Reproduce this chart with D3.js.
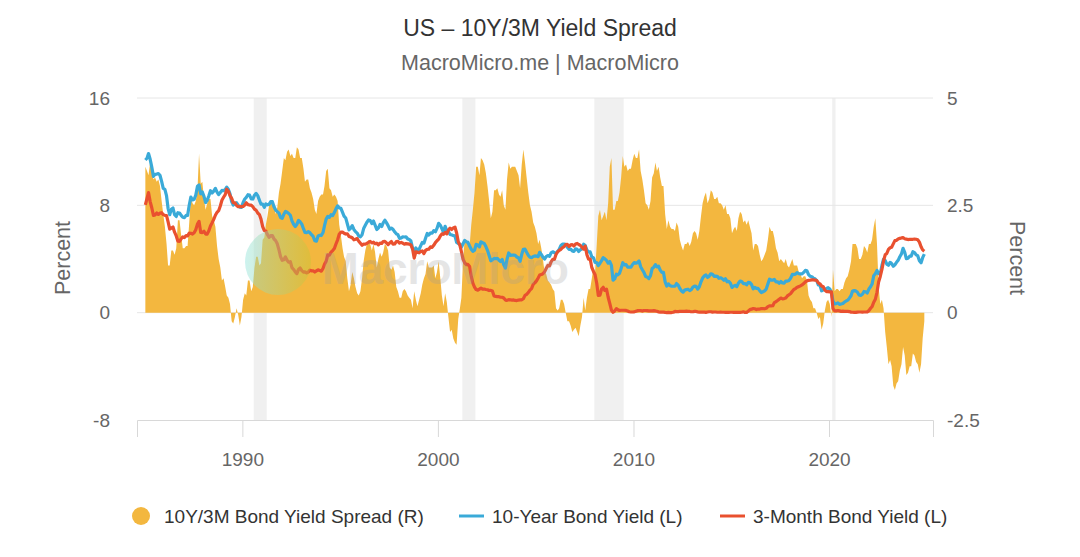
<!DOCTYPE html>
<html>
<head>
<meta charset="utf-8">
<script src="https://cdn.jsdelivr.net/npm/d3@7"></script>
<style>
  body { margin: 0; background: #fff; }
  text { font-family: "Liberation Sans", Arial, sans-serif; }
</style>
</head>
<body>
<svg id="chart" width="1080" height="557"></svg>
<script>
// Monthly values, first month Jan 1985, last Nov 2024
const startYear = 1985;

// 10-Year Bond Yield (L)
const tenYear = [
  11.38, 11.51, 11.86, 11.43, 10.85, 10.16, 10.31, 10.33, 10.37, 10.24, 9.78, 9.26,
  9.19, 8.70, 7.78, 7.30, 7.71, 7.80, 7.30, 7.17, 7.45, 7.43, 7.25, 7.11,
  7.08, 7.25, 7.25, 8.02, 8.61, 8.40, 8.45, 8.76, 9.42, 9.52, 8.86, 8.99,
  8.67, 8.21, 8.37, 8.72, 9.09, 8.92, 9.06, 9.26, 8.98, 8.80, 8.96, 9.11,
  9.09, 9.17, 9.36, 9.18, 8.86, 8.28, 8.02, 8.11, 8.19, 8.01, 7.87, 7.84,
  8.21, 8.47, 8.59, 8.79, 8.76, 8.48, 8.47, 8.75, 8.89, 8.72, 8.39, 8.08,
  8.09, 7.85, 8.11, 8.04, 8.07, 8.28, 8.27, 7.90, 7.65, 7.53, 7.42, 7.09,
  7.03, 7.34, 7.54, 7.48, 7.39, 7.26, 6.84, 6.59, 6.42, 6.59, 6.87, 6.77,
  6.60, 6.26, 5.98, 5.97, 6.04, 5.96, 5.81, 5.68, 5.36, 5.33, 5.72, 5.77,
  5.75, 5.97, 6.48, 6.97, 7.18, 7.10, 7.30, 7.24, 7.46, 7.74, 7.96, 7.81,
  7.78, 7.47, 7.20, 7.06, 6.63, 6.17, 6.28, 6.49, 6.20, 6.04, 5.93, 5.71,
  5.65, 5.81, 6.27, 6.51, 6.74, 6.91, 6.87, 6.64, 6.83, 6.53, 6.20, 6.30,
  6.58, 6.42, 6.69, 6.89, 6.71, 6.49, 6.22, 6.30, 6.21, 6.03, 5.88, 5.81,
  5.54, 5.57, 5.65, 5.64, 5.65, 5.50, 5.46, 5.34, 4.81, 4.53, 4.83, 4.65,
  4.72, 5.00, 5.23, 5.18, 5.54, 5.90, 5.79, 5.94, 5.92, 6.11, 6.03, 6.28,
  6.66, 6.52, 6.26, 5.99, 6.44, 6.10, 6.05, 5.83, 5.80, 5.74, 5.72, 5.24,
  5.16, 5.10, 4.89, 5.14, 5.39, 5.28, 5.24, 4.97, 4.73, 4.57, 4.65, 5.09,
  5.04, 4.91, 5.28, 5.21, 5.16, 4.93, 4.65, 4.26, 3.87, 3.94, 4.05, 4.03,
  4.05, 3.90, 3.81, 3.96, 3.57, 3.33, 3.98, 4.45, 4.27, 4.29, 4.30, 4.27,
  4.15, 4.08, 3.83, 4.35, 4.72, 4.73, 4.50, 4.28, 4.13, 4.10, 4.19, 4.23,
  4.22, 4.17, 4.50, 4.34, 4.14, 4.00, 4.18, 4.26, 4.20, 4.46, 4.54, 4.47,
  4.42, 4.57, 4.72, 4.99, 5.11, 5.11, 5.09, 4.88, 4.72, 4.73, 4.60, 4.56,
  4.76, 4.72, 4.56, 4.69, 4.75, 5.10, 5.00, 4.67, 4.52, 4.53, 4.15, 4.10,
  3.74, 3.74, 3.51, 3.68, 3.88, 4.10, 4.01, 3.89, 3.69, 3.81, 3.53, 2.42,
  2.52, 2.87, 2.82, 2.93, 3.29, 3.72, 3.56, 3.59, 3.40, 3.39, 3.40, 3.59,
  3.73, 3.69, 3.73, 3.85, 3.42, 3.20, 3.01, 2.70, 2.65, 2.54, 2.76, 3.29,
  3.39, 3.58, 3.41, 3.46, 3.17, 3.00, 3.00, 2.30, 1.98, 2.15, 2.01, 1.98,
  1.97, 1.97, 2.17, 2.05, 1.80, 1.62, 1.53, 1.68, 1.72, 1.75, 1.65, 1.72,
  1.91, 1.98, 1.96, 1.76, 1.93, 2.30, 2.58, 2.74, 2.81, 2.62, 2.72, 2.90,
  2.86, 2.71, 2.72, 2.71, 2.56, 2.60, 2.54, 2.42, 2.53, 2.30, 2.33, 2.21,
  1.88, 1.98, 2.04, 1.94, 2.20, 2.36, 2.32, 2.17, 2.17, 2.07, 2.26, 2.24,
  2.09, 1.78, 1.89, 1.81, 1.81, 1.64, 1.50, 1.56, 1.63, 1.76, 2.14, 2.49,
  2.43, 2.42, 2.48, 2.30, 2.30, 2.19, 2.32, 2.21, 2.20, 2.36, 2.35, 2.40,
  2.58, 2.86, 2.84, 2.87, 2.98, 2.91, 2.89, 2.89, 3.00, 3.15, 3.12, 2.83,
  2.71, 2.68, 2.57, 2.53, 2.40, 2.07, 2.06, 1.63, 1.70, 1.71, 1.81, 1.86,
  1.76, 1.50, 0.87, 0.66, 0.67, 0.73, 0.62, 0.65, 0.68, 0.79, 0.87, 0.93,
  1.08, 1.26, 1.61, 1.64, 1.62, 1.52, 1.32, 1.28, 1.37, 1.58, 1.56, 1.47,
  1.76, 1.93, 2.13, 2.75, 2.90, 3.14, 2.90, 2.90, 3.52, 3.98, 3.89, 3.62,
  3.53, 3.75, 3.66, 3.46, 3.57, 3.75, 3.90, 4.17, 4.38, 4.80, 4.50, 4.02,
  4.06, 4.21, 4.21, 4.54, 4.48, 4.31, 4.25, 3.87, 3.72, 4.10, 4.36
];

// 3-Month Bond Yield (L)
const threeMonth = [
  8.03, 8.51, 8.95, 8.28, 7.82, 7.25, 7.29, 7.43, 7.32, 7.42, 7.45, 7.31,
  7.25, 7.24, 6.78, 6.23, 6.30, 6.39, 6.00, 5.72, 5.33, 5.32, 5.50, 5.65,
  5.60, 5.75, 5.72, 5.93, 5.92, 5.86, 5.95, 6.18, 6.60, 6.80, 5.98, 5.97,
  6.07, 5.86, 5.86, 6.10, 6.46, 6.70, 6.95, 7.26, 7.48, 7.60, 7.95, 8.38,
  8.60, 8.80, 9.20, 9.05, 8.72, 8.52, 8.20, 8.19, 7.99, 7.90, 7.92, 7.91,
  7.92, 8.02, 8.19, 8.05, 8.02, 8.01, 7.90, 7.72, 7.63, 7.43, 7.31, 6.97,
  6.42, 6.12, 6.09, 5.82, 5.62, 5.74, 5.75, 5.49, 5.37, 5.13, 4.69, 4.18,
  3.90, 3.94, 4.16, 3.91, 3.76, 3.80, 3.36, 3.22, 3.04, 2.91, 3.22, 3.33,
  3.13, 3.02, 3.04, 2.96, 3.03, 3.17, 3.12, 3.12, 3.03, 3.11, 3.19, 3.15,
  3.09, 3.29, 3.61, 3.84, 4.30, 4.29, 4.51, 4.63, 4.78, 5.12, 5.43, 5.84,
  6.00, 6.00, 5.92, 5.86, 5.88, 5.68, 5.64, 5.58, 5.43, 5.47, 5.52, 5.32,
  5.17, 5.02, 5.11, 5.10, 5.17, 5.25, 5.31, 5.20, 5.25, 5.14, 5.18, 5.06,
  5.18, 5.16, 5.30, 5.32, 5.20, 5.08, 5.20, 5.30, 5.10, 5.12, 5.30, 5.32,
  5.19, 5.24, 5.18, 5.10, 5.15, 5.13, 5.11, 5.05, 4.74, 4.07, 4.53, 4.51,
  4.46, 4.57, 4.60, 4.40, 4.64, 4.72, 4.73, 4.90, 4.87, 5.02, 5.22, 5.36,
  5.48, 5.72, 5.87, 5.84, 5.98, 5.87, 6.16, 6.30, 6.20, 6.32, 6.38, 5.96,
  5.30, 5.02, 4.54, 3.97, 3.71, 3.58, 3.60, 3.44, 2.70, 2.20, 1.91, 1.72,
  1.68, 1.76, 1.83, 1.75, 1.76, 1.73, 1.71, 1.65, 1.66, 1.61, 1.25, 1.21,
  1.19, 1.19, 1.15, 1.15, 1.09, 0.94, 0.92, 0.97, 0.96, 0.94, 0.95, 0.91,
  0.90, 0.94, 0.95, 0.96, 1.04, 1.29, 1.36, 1.50, 1.68, 1.79, 2.11, 2.22,
  2.37, 2.58, 2.80, 2.84, 2.90, 3.04, 3.29, 3.52, 3.49, 3.79, 3.97, 3.97,
  4.34, 4.54, 4.63, 4.72, 4.84, 4.92, 5.08, 5.09, 4.93, 5.05, 5.07, 4.97,
  5.11, 5.16, 5.08, 5.01, 4.87, 4.74, 4.96, 4.32, 3.99, 4.00, 3.35, 3.07,
  2.82, 2.17, 1.28, 1.31, 1.76, 1.89, 1.66, 1.75, 1.15, 0.69, 0.19, 0.03,
  0.13, 0.30, 0.22, 0.16, 0.18, 0.18, 0.18, 0.17, 0.12, 0.07, 0.05, 0.05,
  0.06, 0.11, 0.15, 0.16, 0.16, 0.12, 0.16, 0.16, 0.15, 0.13, 0.14, 0.14,
  0.15, 0.13, 0.10, 0.06, 0.04, 0.04, 0.04, 0.02, 0.01, 0.02, 0.01, 0.01,
  0.03, 0.09, 0.08, 0.08, 0.09, 0.09, 0.10, 0.10, 0.11, 0.10, 0.09, 0.07,
  0.07, 0.10, 0.09, 0.06, 0.04, 0.05, 0.04, 0.04, 0.02, 0.05, 0.07, 0.07,
  0.04, 0.05, 0.05, 0.03, 0.03, 0.04, 0.03, 0.03, 0.02, 0.02, 0.02, 0.03,
  0.03, 0.02, 0.03, 0.02, 0.02, 0.02, 0.03, 0.07, 0.02, 0.02, 0.12, 0.23,
  0.26, 0.31, 0.29, 0.23, 0.27, 0.27, 0.30, 0.30, 0.29, 0.33, 0.45, 0.51,
  0.51, 0.52, 0.75, 0.81, 0.90, 1.00, 1.09, 1.03, 1.05, 1.09, 1.25, 1.34,
  1.43, 1.60, 1.73, 1.79, 1.90, 1.94, 2.00, 2.07, 2.17, 2.29, 2.37, 2.41,
  2.42, 2.44, 2.45, 2.43, 2.40, 2.22, 2.15, 1.99, 1.93, 1.68, 1.57, 1.57,
  1.55, 1.55, 0.30, 0.14, 0.13, 0.16, 0.13, 0.10, 0.11, 0.10, 0.09, 0.09,
  0.08, 0.04, 0.03, 0.02, 0.02, 0.04, 0.05, 0.05, 0.04, 0.05, 0.05, 0.06,
  0.15, 0.33, 0.45, 0.78, 1.00, 1.52, 2.28, 2.70, 3.22, 3.85, 4.31, 4.41,
  4.72, 4.84, 4.88, 5.13, 5.37, 5.39, 5.49, 5.54, 5.57, 5.59, 5.51, 5.48,
  5.45, 5.47, 5.47, 5.47, 5.48, 5.47, 5.43, 5.26, 4.91, 4.68, 4.58
];

// 10Y/3M Bond Yield Spread (R)
const spread = [
  3.40, 3.30, 3.20, 3.50, 3.30, 3.10, 3.15, 3.05, 3.10, 2.95, 2.60, 2.30,
  2.00, 1.60, 1.10, 1.10, 1.45, 1.45, 1.35, 1.50, 2.15, 2.15, 1.80, 1.50,
  1.50, 1.55, 1.55, 2.10, 2.70, 2.55, 2.50, 2.60, 2.85, 3.70, 3.00, 3.05,
  2.65, 2.40, 2.55, 2.65, 2.65, 2.25, 2.15, 2.00, 1.55, 1.25, 1.05, 0.75,
  0.80, 0.60, 0.40, 0.35, 0.20, -0.20, -0.25, -0.10, 0.10, -0.05, -0.30, -0.10,
  0.30, 0.45, 0.40, 0.75, 0.75, 0.50, 0.60, 1.05, 1.30, 1.30, 1.10, 1.15,
  1.70, 1.75, 2.05, 2.25, 2.50, 2.55, 2.55, 2.45, 2.30, 2.45, 2.80, 3.00,
  3.30, 3.60, 3.55, 3.75, 3.80, 3.65, 3.70, 3.60, 3.60, 3.85, 3.80, 3.60,
  3.60, 3.35, 3.05, 3.10, 3.10, 2.90, 2.80, 2.65, 2.40, 2.30, 2.60, 2.70,
  2.75, 2.75, 2.95, 3.30, 3.35, 2.90, 2.85, 2.70, 2.75, 2.70, 2.60, 2.05,
  1.80, 1.50, 1.30, 1.20, 0.80, 0.50, 0.65, 0.95, 0.80, 0.60, 0.45, 0.40,
  0.50, 0.80, 1.20, 1.45, 1.60, 1.70, 1.60, 1.45, 1.60, 1.40, 1.05, 1.25,
  1.40, 1.30, 1.40, 1.60, 1.55, 1.45, 1.05, 1.00, 1.10, 0.95, 0.60, 0.50,
  0.35, 0.35, 0.50, 0.55, 0.50, 0.40, 0.35, 0.30, 0.10, 0.50, 0.30, 0.15,
  0.30, 0.45, 0.65, 0.80, 0.90, 1.20, 1.05, 1.05, 1.05, 1.10, 0.80, 0.95,
  1.20, 0.80, 0.40, 0.15, 0.45, 0.25, -0.10, -0.45, -0.40, -0.60, -0.70, -0.75,
  -0.15, 0.10, 0.35, 1.20, 1.70, 1.70, 1.65, 1.55, 2.05, 2.40, 2.80, 3.40,
  3.40, 3.20, 3.60, 3.55, 3.45, 3.25, 2.95, 2.60, 2.20, 2.35, 2.85, 2.85,
  2.90, 2.75, 2.70, 2.85, 2.50, 2.40, 3.10, 3.50, 3.35, 3.40, 3.40, 3.40,
  3.30, 3.20, 2.90, 3.45, 3.80, 3.50, 3.15, 2.80, 2.50, 2.35, 2.10, 2.00,
  1.85, 1.60, 1.70, 1.50, 1.25, 0.95, 0.90, 0.75, 0.70, 0.65, 0.55, 0.50,
  0.10, 0.05, 0.10, 0.30, 0.30, 0.20, 0.00, -0.20, -0.20, -0.30, -0.45, -0.40,
  -0.35, -0.45, -0.55, -0.30, -0.10, 0.35, 0.05, 0.35, 0.55, 0.55, 0.80, 1.05,
  0.95, 1.60, 2.25, 2.40, 2.15, 2.25, 2.35, 2.15, 2.55, 3.40, 3.60, 2.40,
  2.40, 2.60, 2.60, 2.80, 3.15, 3.65, 3.40, 3.45, 3.30, 3.35, 3.35, 3.55,
  3.70, 3.60, 3.60, 3.80, 3.30, 3.10, 2.85, 2.55, 2.50, 2.40, 2.60, 3.15,
  3.25, 3.50, 3.30, 3.40, 3.15, 2.95, 2.95, 2.30, 1.95, 2.15, 2.00, 1.95,
  1.95, 1.90, 2.10, 2.00, 1.70, 1.55, 1.45, 1.60, 1.60, 1.65, 1.55, 1.65,
  1.85, 1.90, 1.85, 1.70, 1.90, 2.25, 2.55, 2.70, 2.80, 2.55, 2.65, 2.85,
  2.80, 2.65, 2.65, 2.70, 2.55, 2.55, 2.50, 2.40, 2.50, 2.30, 2.30, 2.20,
  1.85, 1.95, 2.00, 1.90, 2.20, 2.35, 2.30, 2.10, 2.15, 2.05, 2.15, 2.00,
  1.85, 1.45, 1.60, 1.60, 1.55, 1.35, 1.20, 1.25, 1.35, 1.45, 1.70, 2.00,
  1.90, 1.90, 1.75, 1.50, 1.40, 1.20, 1.25, 1.20, 1.15, 1.25, 1.10, 1.05,
  1.15, 1.25, 1.10, 1.10, 1.10, 0.95, 0.90, 0.80, 0.85, 0.85, 0.75, 0.40,
  0.30, 0.25, 0.10, 0.10, 0.00, -0.15, -0.10, -0.40, -0.25, 0.05, 0.25, 0.30,
  0.20, -0.10, 1.00, 0.50, 0.55, 0.55, 0.50, 0.55, 0.55, 0.70, 0.80, 0.85,
  1.00, 1.20, 1.60, 1.60, 1.60, 1.50, 1.25, 1.25, 1.35, 1.55, 1.50, 1.40,
  1.60, 1.60, 1.70, 2.00, 2.20, 1.60, 0.60, 0.20, 0.30, 0.10, -0.45, -0.80,
  -1.20, -1.10, -1.25, -1.70, -1.80, -1.65, -1.60, -1.35, -1.20, -0.80, -1.00, -1.45,
  -1.40, -1.25, -1.25, -0.95, -1.00, -1.15, -1.20, -1.40, -1.20, -0.60, -0.20
];

// Recession periods (grey bands)
const recessions = [
  ["1990-08-01", "1991-04-01"],
  ["2001-04-01", "2001-12-01"],
  ["2008-01-01", "2009-07-01"],
  ["2020-03-01", "2020-05-01"]
];

const leftTicks = [-8, 0, 8, 16];
const rightTicks = [-2.5, 0, 2.5, 5];
const yearTicks = [1990, 2000, 2010, 2020];

const colors = { spread: "#f3b73f", tenYear: "#3aaad8", threeMonth: "#e9502f" };

const svg = d3.select("#chart");
const margin = { left: 137, right: 933, top: 98, bottom: 420 };

const data = tenYear.map((v, i) => ({
  date: new Date(startYear, i, 15),
  tenYear: v,
  threeMonth: threeMonth[i],
  spread: spread[i]
}));

const x = d3.scaleTime()
  .domain([new Date(1984, 7, 12), new Date(2025, 3, 26)])
  .range([margin.left, margin.right]);

const yL = d3.scaleLinear().domain([-8, 16]).range([margin.bottom, margin.top]);
const yR = d3.scaleLinear().domain([-2.5, 5]).range([margin.bottom, margin.top]);

// Title
svg.append("text")
  .attr("x", 540).attr("y", 36)
  .attr("text-anchor", "middle")
  .style("font-size", "23px")
  .attr("fill", "#333")
  .text("US – 10Y/3M Yield Spread");

svg.append("text")
  .attr("x", 540).attr("y", 70)
  .attr("text-anchor", "middle")
  .style("font-size", "21.5px")
  .attr("fill", "#666")
  .text("MacroMicro.me | MacroMicro");

// Recession bands
svg.append("g")
  .selectAll("rect")
  .data(recessions)
  .join("rect")
  .attr("x", d => x(new Date(d[0])))
  .attr("width", d => x(new Date(d[1])) - x(new Date(d[0])))
  .attr("y", margin.top)
  .attr("height", margin.bottom - margin.top)
  .attr("fill", "#f0f0f0");

// Grid lines
svg.append("g")
  .selectAll("line")
  .data(leftTicks.filter(t => t !== -8))
  .join("line")
  .attr("x1", margin.left).attr("x2", margin.right)
  .attr("y1", d => yL(d)).attr("y2", d => yL(d))
  .attr("stroke", "#e6e6e6")
  .attr("stroke-width", 1);

// Spread area (right axis)
const area = d3.area()
  .x(d => x(d.date))
  .y0(yR(0))
  .y1(d => yR(d.spread));

svg.append("path")
  .datum(data)
  .attr("d", area)
  .attr("fill", colors.spread);

// Yield lines (left axis)
const line10 = d3.line().x(d => x(d.date)).y(d => yL(d.tenYear));
const line3 = d3.line().x(d => x(d.date)).y(d => yL(d.threeMonth));

svg.append("path")
  .datum(data)
  .attr("d", line10)
  .attr("fill", "none")
  .attr("stroke", colors.tenYear)
  .attr("stroke-width", 3.2)
  .attr("stroke-linejoin", "round");

svg.append("path")
  .datum(data)
  .attr("d", line3)
  .attr("fill", "none")
  .attr("stroke", colors.threeMonth)
  .attr("stroke-width", 3.2)
  .attr("stroke-linejoin", "round");

// Watermark
const defs = svg.append("defs");
const grad = defs.append("linearGradient").attr("id", "wm").attr("x1", "0").attr("x2", "1");
grad.append("stop").attr("offset", "0%").attr("stop-color", "#8fe3dc");
grad.append("stop").attr("offset", "100%").attr("stop-color", "#c9c336");

svg.append("circle")
  .attr("cx", 278).attr("cy", 262).attr("r", 33)
  .attr("fill", "url(#wm)")
  .attr("opacity", 0.45);

svg.append("text")
  .attr("x", 322).attr("y", 284)
  .style("font-size", "44px")
  .style("font-weight", "bold")
  .attr("fill", "#9a9a9a")
  .attr("opacity", 0.25)
  .text("MacroMicro");

const tickFont = "19px";

// X axis
const xAxis = d3.axisBottom(x)
  .tickValues(yearTicks.map(y => new Date(y, 0, 1)))
  .tickFormat(d3.timeFormat("%Y"))
  .tickSize(17)
  .tickPadding(16);

const gx = svg.append("g")
  .attr("transform", `translate(0, ${margin.bottom})`)
  .call(xAxis);
gx.select(".domain").attr("stroke", "#d8d8d8");
gx.selectAll(".tick line").attr("stroke", "#d8d8d8");
gx.selectAll(".tick text")
  .attr("fill", "#666")
  .style("font-size", tickFont)
  .style("font-family", "'Liberation Sans', Arial, sans-serif");

// Y axes
const gl = svg.append("g")
  .attr("transform", `translate(110, 0)`)
  .call(d3.axisLeft(yL).tickValues(leftTicks).tickFormat(d => String(d)).tickSize(0).tickPadding(0));
gl.select(".domain").remove();
gl.selectAll(".tick text")
  .attr("fill", "#666")
  .style("font-size", tickFont)
  .style("font-family", "'Liberation Sans', Arial, sans-serif");

const gr = svg.append("g")
  .attr("transform", `translate(947, 0)`)
  .call(d3.axisRight(yR).tickValues(rightTicks).tickFormat(d => String(d)).tickSize(0).tickPadding(0));
gr.select(".domain").remove();
gr.selectAll(".tick text")
  .attr("fill", "#666")
  .style("font-size", tickFont)
  .style("font-family", "'Liberation Sans', Arial, sans-serif");

// Axis titles
svg.append("text")
  .attr("transform", "translate(70, 258) rotate(-90)")
  .attr("text-anchor", "middle")
  .style("font-size", "21.5px")
  .attr("fill", "#666")
  .text("Percent");

svg.append("text")
  .attr("transform", "translate(1010, 258) rotate(90)")
  .attr("text-anchor", "middle")
  .style("font-size", "21.5px")
  .attr("fill", "#666")
  .text("Percent");

// Legend
const legend = svg.append("g");
legend.append("circle")
  .attr("cx", 141).attr("cy", 516).attr("r", 9)
  .attr("fill", colors.spread);
legend.append("text")
  .attr("x", 164).attr("y", 523)
  .style("font-size", tickFont).attr("fill", "#333")
  .text("10Y/3M Bond Yield Spread (R)");

legend.append("line")
  .attr("x1", 459).attr("x2", 484).attr("y1", 516).attr("y2", 516)
  .attr("stroke", colors.tenYear).attr("stroke-width", 3);
legend.append("text")
  .attr("x", 492).attr("y", 523)
  .style("font-size", tickFont).attr("fill", "#333")
  .text("10-Year Bond Yield (L)");

legend.append("line")
  .attr("x1", 720).attr("x2", 745).attr("y1", 516).attr("y2", 516)
  .attr("stroke", colors.threeMonth).attr("stroke-width", 3);
legend.append("text")
  .attr("x", 753).attr("y", 523)
  .style("font-size", tickFont).attr("fill", "#333")
  .text("3-Month Bond Yield (L)");
</script>
</body>
</html>
